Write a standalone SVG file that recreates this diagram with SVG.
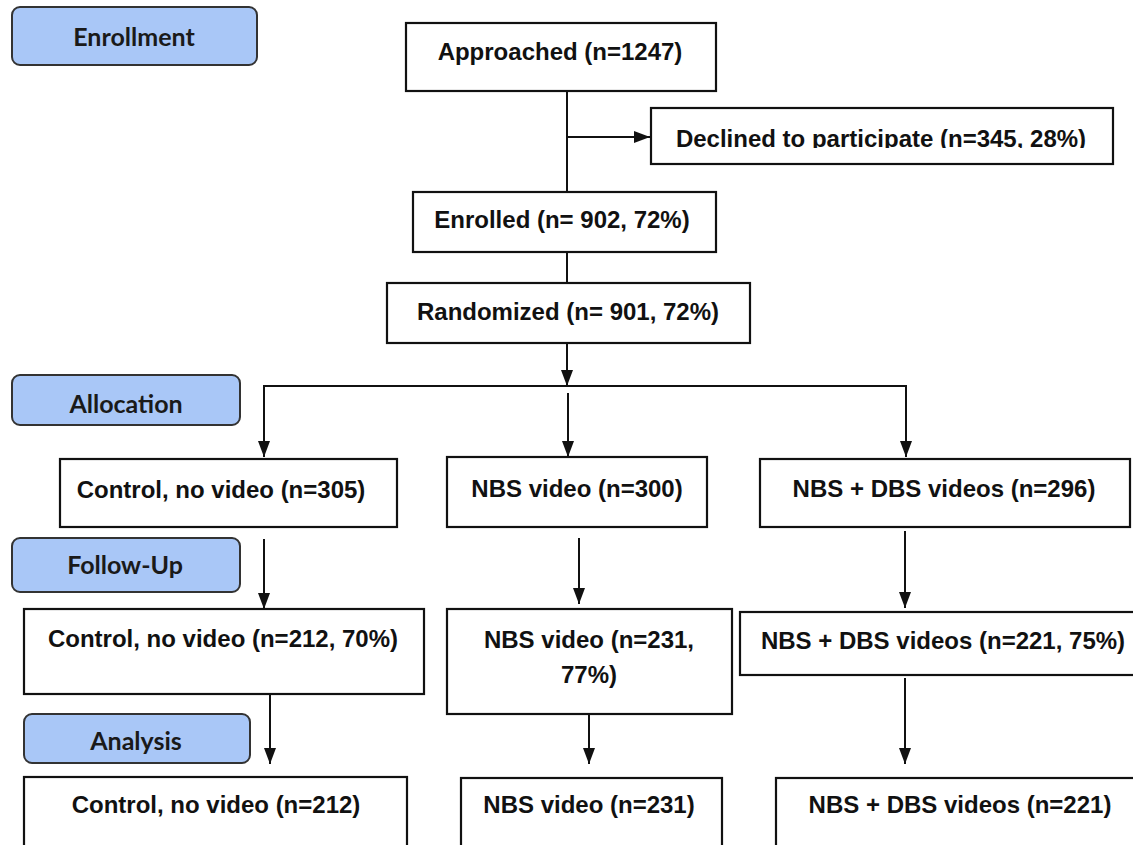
<svg xmlns="http://www.w3.org/2000/svg" width="1133" height="845" viewBox="0 0 1133 845">
<defs>
<style>
.node{fill:#ffffff;stroke:#111111;stroke-width:2.2}
.stage{fill:#a9c7f7;stroke:#333333;stroke-width:2}
.t{font-family:"Liberation Sans",Arial,sans-serif;font-weight:bold;font-size:24px;fill:#111111;text-anchor:middle}
.lt{font-family:Lato,"Open Sans",sans-serif;font-weight:bold;font-size:25px;fill:#1a1a1a;text-anchor:middle}
.c{fill:none;stroke:#111111;stroke-width:2}
</style>
<marker id="arr" markerUnits="userSpaceOnUse" markerWidth="16" markerHeight="12" refX="16" refY="6" orient="auto">
<path d="M0,0 L16,6 L0,12 z" fill="#111111"/>
</marker>
<clipPath id="declClip"><rect x="651" y="108" width="462" height="40"/></clipPath>
</defs>
<rect width="1133" height="845" fill="#ffffff"/>

<g id="stage-enrollment"><rect class="stage" x="12" y="7" width="245" height="58" rx="8"/><text class="lt" x="134" y="46">Enrollment</text></g>
<g id="stage-allocation"><rect class="stage" x="12" y="375" width="228" height="50" rx="8"/><text class="lt" x="126" y="413">Allocation</text></g>
<g id="stage-followup"><rect class="stage" x="12" y="538" width="228" height="54" rx="8"/><text class="lt" x="125" y="574">Follow-Up</text></g>
<g id="stage-analysis"><rect class="stage" x="24" y="714" width="226" height="49" rx="8"/><text class="lt" x="136" y="750">Analysis</text></g>

<g id="connectors">
<line class="c" x1="567" y1="91" x2="567" y2="192"/>
<line class="c" x1="567" y1="137" x2="650" y2="137" marker-end="url(#arr)"/>
<line class="c" x1="567" y1="252" x2="567" y2="283"/>
<line class="c" x1="567" y1="343" x2="567" y2="386" marker-end="url(#arr)"/>
<polyline class="c" points="264,457 264,386 906,386 906,457"/>
<line class="c" x1="264" y1="430" x2="264" y2="457" marker-end="url(#arr)"/>
<line class="c" x1="906" y1="430" x2="906" y2="457" marker-end="url(#arr)"/>
<line class="c" x1="568" y1="393" x2="568" y2="457" marker-end="url(#arr)"/>
<line class="c" x1="264" y1="539" x2="264" y2="609" marker-end="url(#arr)"/>
<line class="c" x1="579" y1="538" x2="579" y2="604" marker-end="url(#arr)"/>
<line class="c" x1="905" y1="531" x2="905" y2="608" marker-end="url(#arr)"/>
<line class="c" x1="270" y1="694" x2="270" y2="764" marker-end="url(#arr)"/>
<line class="c" x1="589" y1="714" x2="589" y2="764" marker-end="url(#arr)"/>
<line class="c" x1="905" y1="678" x2="905" y2="764" marker-end="url(#arr)"/>
</g>

<g id="approached"><rect class="node" x="406" y="23" width="310" height="68"/><text class="t" x="560" y="60">Approached (n=1247)</text></g>
<g id="declined"><rect class="node" x="651" y="108" width="462" height="56"/><text class="t" x="881" y="147" clip-path="url(#declClip)">Declined to participate (n=345, 28%)</text></g>
<g id="enrolled"><rect class="node" x="413" y="192" width="303" height="60"/><text class="t" x="562" y="228">Enrolled (n= 902, 72%)</text></g>
<g id="randomized"><rect class="node" x="387" y="283" width="363" height="60"/><text class="t" x="568" y="320">Randomized (n= 901, 72%)</text></g>

<g id="alloc-control"><rect class="node" x="60" y="459" width="337" height="68"/><text class="t" x="221" y="498">Control, no video (n=305)</text></g>
<g id="alloc-nbs"><rect class="node" x="447" y="457" width="260" height="70"/><text class="t" x="577" y="497">NBS video (n=300)</text></g>
<g id="alloc-nbsdbs"><rect class="node" x="760" y="459" width="370" height="68"/><text class="t" x="944" y="497">NBS + DBS videos (n=296)</text></g>

<g id="fu-control"><rect class="node" x="24" y="609" width="400" height="85"/><text class="t" x="223" y="647">Control, no video (n=212, 70%)</text></g>
<g id="fu-nbs"><rect class="node" x="447" y="609" width="285" height="105"/><text class="t" x="589" y="648">NBS video (n=231,</text><text class="t" x="589" y="683">77%)</text></g>
<g id="fu-nbsdbs"><rect class="node" x="740" y="612" width="410" height="63"/><text class="t" x="943" y="649">NBS + DBS videos (n=221, 75%)</text></g>

<g id="an-control"><rect class="node" x="24" y="777" width="383" height="90"/><text class="t" x="216" y="813">Control, no video (n=212)</text></g>
<g id="an-nbs"><rect class="node" x="461" y="778" width="261" height="90"/><text class="t" x="589" y="813">NBS video (n=231)</text></g>
<g id="an-nbsdbs"><rect class="node" x="776" y="778" width="380" height="90"/><text class="t" x="960" y="813">NBS + DBS videos (n=221)</text></g>
</svg>
